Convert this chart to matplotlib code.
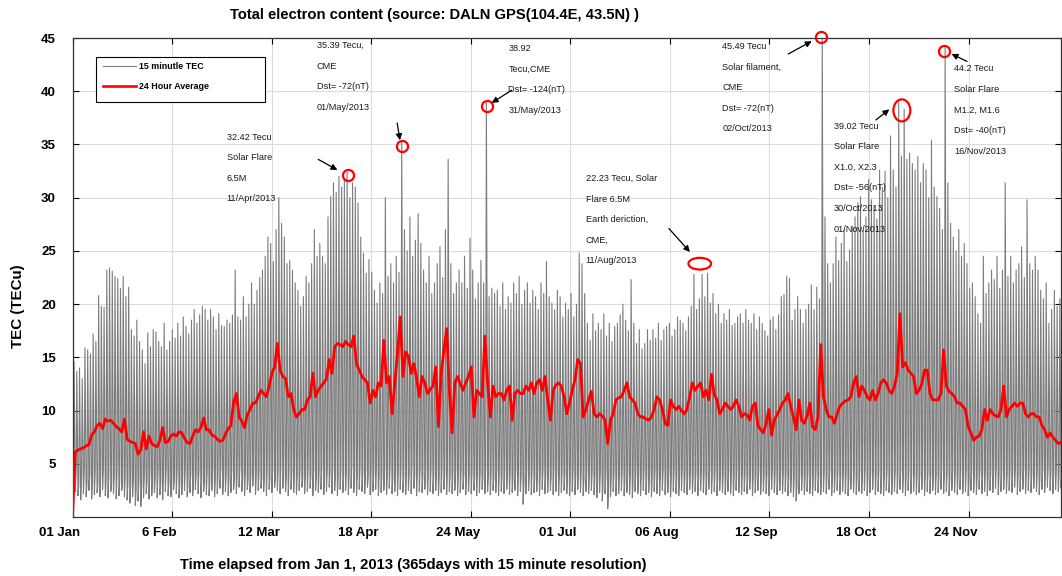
import numpy as np
import matplotlib
matplotlib.use("Agg")
import matplotlib.pyplot as plt
import matplotlib.transforms as mtrans
from matplotlib.patches import Ellipse, Rectangle
from matplotlib.lines import Line2D

plt.rcParams['font.family'] = ['Liberation Sans', 'DejaVu Sans']

# daily night minimum of the 15 minute TEC (TECu), one value per day of 2013
daily_min = [
    1.8, 2.4, 2.0, 1.6, 2.2, 1.9, 2.5, 1.7, 2.1, 2.3,
    1.9, 2.6, 2.0, 1.8, 2.4, 2.2, 1.7, 2.0, 2.5, 1.9,
    1.6, 1.3, 1.9, 1.1, 1.5, 1.0, 1.8, 2.2, 1.7, 2.0,
    2.3, 1.8, 2.1, 1.6, 2.4, 2.0, 1.9, 2.6, 2.2, 1.8,
    2.1, 2.5, 1.9, 2.3, 2.0, 2.6, 2.2, 1.8, 2.4, 2.1,
    2.0, 2.5, 1.9, 2.2, 2.7, 2.1, 2.4, 2.0, 2.3, 2.6,
    2.2, 2.8, 2.4, 2.0, 2.6, 2.3, 2.9, 2.1, 2.5, 2.7,
    2.4, 2.0, 2.6, 2.3, 2.8, 2.5, 2.2, 2.7, 2.4, 2.0,
    2.6, 2.3, 2.1, 2.5, 2.8, 2.2, 2.4, 2.7, 2.0, 2.5,
    2.3, 2.6, 2.1, 2.4, 2.8, 2.2, 2.5, 2.0, 2.6, 2.3,
    2.5, 2.1, 2.7, 2.3, 2.0, 2.6, 2.4, 2.2, 2.8, 2.1,
    2.4, 2.6, 2.0, 2.3, 2.5, 2.1, 2.7, 2.2, 2.4, 2.0,
    2.6, 2.3, 2.1, 2.5, 2.2, 2.7, 2.0, 2.4, 2.3, 2.6,
    2.1, 2.4, 2.2, 2.5, 2.0, 2.3, 2.6, 2.1, 2.4, 2.2,
    2.5, 2.0, 2.3, 2.6, 2.1, 2.4, 2.2, 2.5, 2.0, 2.3,
    2.6, 2.2, 2.4, 2.1, 2.5, 2.3, 2.0, 2.4, 2.2, 2.6,
    2.1, 2.3, 2.5, 2.0, 2.4, 1.2, 2.2, 2.5, 2.1, 2.3,
    2.4, 2.0, 2.6, 2.2, 2.3, 2.5, 2.1, 2.4, 2.0, 2.3,
    2.5, 2.2, 2.0, 2.4, 2.1, 2.6, 2.3, 2.0, 2.4, 2.2,
    2.5, 2.1, 1.8, 2.3, 1.5, 2.2, 0.8, 1.9, 2.4, 2.0,
    2.2, 2.5, 2.0, 2.3, 2.1, 1.8, 2.4, 2.2, 2.0, 2.5,
    2.1, 2.3, 1.9, 2.4, 2.2, 2.0, 2.5, 2.1, 2.3, 1.9,
    2.4, 2.2, 2.0, 2.5, 2.3, 2.1, 2.6, 2.2, 2.4, 2.0,
    2.5, 2.3, 2.1, 2.6, 2.2, 2.4, 2.0, 2.5, 2.3, 2.1,
    2.4, 2.2, 2.0, 2.5, 2.3, 2.1, 2.4, 2.2, 2.6, 2.0,
    2.3, 2.5, 2.1, 2.4, 2.2, 2.0, 2.6, 2.3, 2.1, 2.5,
    2.2, 2.4, 2.0, 2.3, 1.9, 1.5, 2.2, 2.5, 2.1, 2.4,
    2.2, 2.0, 2.5, 2.3, 2.1, 2.4, 2.2, 2.6, 2.0, 2.3,
    2.5, 2.1, 2.4, 2.2, 2.0, 2.6, 2.3, 2.1, 2.4, 2.2,
    2.5, 2.0, 2.3, 2.6, 2.1, 2.4, 2.2, 2.0, 2.5, 2.3,
    2.1, 2.4, 2.2, 2.6, 2.3, 2.0, 2.5, 2.2, 2.4, 2.1,
    2.3, 2.6, 2.0, 2.4, 2.2, 2.5, 2.1, 2.3, 2.6, 2.2,
    2.4, 2.0, 2.5, 2.3, 2.1, 2.6, 2.2, 2.4, 2.0, 2.5,
    2.3, 2.1, 2.6, 2.2, 2.4, 2.0, 2.5, 2.3, 2.7, 2.1,
    2.4, 2.6, 2.2, 2.5, 2.3, 2.8, 2.1, 2.4, 2.6, 2.2,
    2.5, 2.3, 2.7, 2.4, 2.1, 2.6, 2.3, 2.8, 2.5, 2.2,
    2.6, 2.4, 2.7, 2.3, 2.5,
]

# top of the noisy night band, just before sunrise (TECu)
daily_predawn = [
    3.6, 4.2, 3.1, 3.9, 4.4, 3.3, 4.0, 3.5, 4.3, 3.2,
    3.8, 4.5, 3.4, 4.1, 3.0, 3.9, 4.4, 3.6, 3.2, 4.0,
    3.3, 2.9, 3.7, 2.6, 3.4, 2.8, 3.9, 3.5, 4.2, 3.1,
    3.7, 4.3, 3.2, 3.9, 4.5, 3.4, 4.0, 3.6, 4.4, 3.3,
    3.9, 4.6, 3.5, 4.1, 3.2, 4.0, 4.5, 3.7, 3.3, 4.2,
    3.6, 4.4, 3.4, 4.1, 4.7, 3.5, 4.2, 3.8, 4.5, 3.6,
    4.0, 4.8, 3.7, 4.3, 3.5, 4.1, 4.9, 3.9, 4.4, 3.6,
    4.2, 4.7, 3.8, 4.5, 3.6, 4.3, 4.9, 4.0, 3.7, 4.6,
    4.1, 4.8, 3.9, 4.4, 3.6, 4.2, 4.7, 4.0, 4.5, 3.8,
    4.3, 4.9, 3.9, 4.6, 4.1, 4.8, 4.2, 3.8, 4.5, 4.0,
    4.6, 4.1, 4.9, 4.3, 3.9, 4.7, 4.2, 4.5, 3.8, 4.4,
    4.0, 4.8, 3.9, 4.3, 4.6, 4.1, 4.7, 3.8, 4.4, 4.2,
    4.7, 4.0, 4.5, 4.1, 4.8, 3.9, 4.4, 4.6, 4.0, 4.3,
    3.9, 4.6, 4.2, 4.4, 3.8, 4.5, 4.1, 4.7, 4.0, 4.3,
    4.5, 3.9, 4.4, 4.1, 4.6, 4.0, 4.3, 3.8, 4.5, 4.2,
    4.0, 4.6, 4.1, 4.4, 3.9, 4.5, 4.2, 4.0, 4.6, 4.1,
    4.3, 3.9, 4.5, 4.2, 4.0, 3.2, 4.4, 4.1, 4.6, 3.9,
    4.4, 4.0, 4.5, 4.1, 4.3, 3.9, 4.6, 4.2, 4.0, 4.4,
    4.1, 4.5, 3.9, 4.3, 4.0, 4.6, 4.2, 3.8, 4.4, 4.1,
    4.3, 3.9, 3.6, 4.2, 3.4, 4.0, 2.9, 3.8, 4.3, 3.9,
    4.1, 4.4, 3.8, 4.2, 3.9, 3.6, 4.3, 4.0, 3.8, 4.4,
    3.9, 4.2, 3.7, 4.3, 4.0, 3.8, 4.4, 3.9, 4.2, 3.7,
    4.3, 4.0, 3.8, 4.4, 4.1, 3.9, 4.5, 4.0, 4.3, 3.8,
    4.4, 4.1, 3.9, 4.5, 4.0, 4.3, 3.8, 4.4, 4.1, 3.9,
    4.3, 4.0, 3.8, 4.4, 4.1, 3.9, 4.3, 4.0, 4.5, 3.8,
    4.1, 4.4, 3.9, 4.2, 4.0, 3.8, 4.5, 4.1, 3.9, 4.3,
    4.0, 4.2, 3.8, 4.1, 3.7, 3.3, 4.0, 4.3, 3.9, 4.2,
    4.0, 3.8, 4.4, 4.1, 3.9, 4.3, 4.0, 4.5, 3.8, 4.2,
    4.4, 3.9, 4.3, 4.1, 3.8, 4.6, 4.2, 3.9, 4.4, 4.1,
    4.5, 3.9, 4.2, 4.6, 4.0, 4.4, 4.1, 3.9, 4.5, 4.2,
    4.0, 4.4, 4.1, 4.6, 4.2, 3.9, 4.5, 4.1, 4.4, 4.0,
    4.2, 4.6, 3.9, 4.4, 4.1, 4.5, 4.0, 4.2, 4.6, 4.1,
    4.3, 3.9, 4.5, 4.2, 4.0, 4.6, 4.1, 4.4, 3.9, 4.5,
    4.2, 4.0, 4.6, 4.1, 4.4, 3.9, 4.5, 4.2, 4.7, 4.0,
    4.4, 4.6, 4.1, 4.5, 4.2, 4.8, 4.0, 4.4, 4.6, 4.1,
    4.5, 4.2, 4.7, 4.3, 4.0, 4.6, 4.2, 4.8, 4.4, 4.1,
    4.6, 4.3, 4.7, 4.2, 4.5,
]

# daily (daytime) peak of the 15 minute TEC (TECu)
daily_peak = [
    14.6, 13.7, 14.0, 13.0, 15.9, 15.7, 15.3, 17.2, 16.5, 20.8,
    19.8, 19.7, 23.2, 23.4, 23.1, 22.6, 22.4, 21.5, 22.6, 20.7,
    21.6, 17.6, 17.0, 18.5, 16.5, 15.7, 14.4, 17.3, 16.0, 17.6,
    17.4, 16.5, 16.0, 18.2, 15.7, 16.5, 17.6, 16.8, 18.2, 17.0,
    18.8, 17.9, 17.2, 18.5, 19.5, 18.2, 19.0, 19.8, 19.5, 18.5,
    19.5, 18.8, 17.6, 19.1, 18.0, 17.9, 18.5, 18.2, 19.0, 23.2,
    18.8, 18.5, 20.7, 18.8, 20.0, 22.0, 20.0, 21.3, 22.5, 23.2,
    24.5, 26.3, 25.7, 24.0, 27.0, 30.0, 27.6, 26.3, 23.8, 24.1,
    23.2, 22.0, 21.3, 19.8, 20.7, 22.6, 22.0, 23.8, 27.0, 24.5,
    25.7, 24.5, 23.8, 28.2, 30.1, 31.4, 30.5, 32.0, 31.0, 31.7,
    32.42, 30.0, 31.4, 31.0, 29.5, 26.3, 24.8, 22.9, 24.2, 23.0,
    21.3, 20.1, 22.0, 21.0, 30.0, 22.6, 23.8, 22.0, 24.5, 23.0,
    35.39, 27.0, 25.0, 28.2, 24.5, 26.0, 28.5, 25.7, 23.2, 22.0,
    24.5, 21.0, 22.0, 23.8, 25.4, 22.5, 27.0, 33.6, 23.8, 21.0,
    22.0, 23.2, 22.0, 24.5, 21.5, 26.2, 23.2, 20.5, 22.0, 24.1,
    22.0, 38.92, 20.7, 21.5, 21.0, 21.3, 19.8, 22.0, 19.5, 20.7,
    20.1, 22.0, 21.0, 22.6, 20.0, 21.3, 22.0, 20.1, 21.3, 20.7,
    19.5, 22.0, 21.0, 24.0, 20.7, 20.1, 19.5, 21.3, 20.7, 18.8,
    20.1, 19.5, 21.0, 18.8, 20.0, 24.8, 23.8, 21.0, 18.2, 16.6,
    19.1, 17.5, 18.2, 17.6, 19.1, 17.0, 18.2, 16.5, 17.9, 18.2,
    19.0, 20.0, 18.5, 17.5, 22.3, 18.2, 16.3, 17.6, 15.8, 16.3,
    17.6, 16.6, 17.6, 16.8, 18.2, 16.6, 17.6, 17.9, 18.2, 17.0,
    17.6, 18.8, 18.5, 18.2, 17.5, 18.8, 19.8, 22.8, 19.5, 20.5,
    22.8, 20.7, 22.9, 20.1, 21.0, 19.1, 20.0, 18.2, 19.1, 18.5,
    19.5, 18.0, 18.2, 18.8, 19.1, 18.2, 19.5, 18.5, 18.2, 19.1,
    17.6, 18.8, 18.2, 17.5, 17.0, 18.5, 18.8, 17.6, 19.0, 20.7,
    20.9, 22.6, 22.4, 18.5, 19.5, 20.7, 19.5, 18.2, 19.5, 20.0,
    21.8, 19.5, 21.6, 20.5, 45.49, 28.2, 23.8, 22.0, 23.8, 26.3,
    24.1, 25.7, 27.0, 24.0, 25.1, 27.3, 28.2, 29.5, 30.1, 27.0,
    28.2, 31.7, 29.8, 29.2, 28.0, 32.6, 31.0, 32.5, 30.0, 35.8,
    32.6, 31.0, 39.02, 33.9, 38.3, 33.6, 34.2, 33.2, 32.6, 33.9,
    31.4, 33.2, 32.6, 30.0, 35.4, 31.0, 30.1, 29.0, 27.0, 44.2,
    31.4, 27.6, 26.3, 25.0, 27.0, 24.5, 25.7, 23.8, 21.5, 22.0,
    20.7, 19.1, 18.2, 24.5, 21.0, 22.0, 23.2, 22.3, 24.5, 21.5,
    23.2, 31.4, 22.6, 24.5, 22.0, 23.2, 23.8, 25.4, 22.5, 29.8,
    23.8, 23.2, 24.5, 23.2, 21.3, 20.5, 22.0, 18.2, 19.5, 21.3,
    19.8, 20.5, 19.0, 20.0, 19.0,
]

# 24 hour running average (TECu)
daily_avg = [
    0.0, 6.1, 6.3, 6.4, 6.5, 6.7, 6.8, 7.7, 8.0, 8.6,
    8.8, 8.3, 9.2, 9.0, 9.1, 8.8, 8.5, 8.3, 8.0, 9.2,
    7.3, 7.1, 7.0, 6.9, 5.9, 6.3, 8.0, 6.4, 7.6, 6.9,
    6.7, 6.6, 7.2, 8.4, 7.0, 7.1, 7.6, 7.8, 7.6, 8.0,
    7.9, 7.4, 7.0, 6.9, 7.6, 8.2, 8.0, 8.4, 9.3, 8.2,
    8.2, 7.7, 7.6, 7.3, 7.1, 7.2, 7.8, 8.3, 8.6, 10.8,
    11.6, 9.4, 9.0, 8.4, 9.6, 10.1, 10.7, 10.7, 11.3, 11.9,
    11.6, 11.3, 12.3, 13.5, 14.1, 16.3, 13.8, 13.2, 13.0, 11.3,
    11.6, 10.1, 9.4, 9.7, 10.1, 10.1, 11.0, 11.3, 13.5, 11.3,
    11.9, 12.3, 12.6, 13.0, 14.8, 13.5, 16.0, 16.3, 16.2, 16.0,
    16.5, 16.2, 16.0, 17.0, 14.4, 13.8, 13.2, 12.9, 12.6, 10.7,
    11.9, 11.3, 12.6, 12.3, 16.6, 12.6, 13.2, 9.7, 12.6, 15.4,
    18.8, 13.2, 15.5, 15.1, 13.5, 14.4, 13.0, 11.3, 13.2, 12.6,
    11.6, 12.0, 12.3, 14.1, 8.5, 13.5, 15.7, 17.7, 11.9, 7.9,
    12.6, 13.2, 12.5, 11.9, 12.6, 13.2, 14.1, 9.4, 11.9, 11.6,
    11.3, 17.0, 12.6, 9.4, 12.3, 11.3, 11.6, 11.6, 11.0, 11.9,
    12.3, 9.1, 11.6, 11.9, 11.6, 11.6, 12.3, 11.9, 12.6, 11.6,
    12.6, 12.9, 11.9, 13.2, 11.0, 9.1, 11.9, 12.4, 12.6, 12.3,
    11.3, 9.7, 10.7, 11.9, 12.9, 14.8, 14.4, 9.4, 10.1, 11.0,
    11.8, 9.7, 9.4, 9.7, 9.5, 9.1, 6.9, 9.1, 9.7, 11.0,
    11.2, 11.3, 11.9, 12.6, 11.3, 11.0, 10.7, 9.7, 9.4, 9.4,
    9.2, 9.1, 9.4, 10.1, 11.3, 11.0, 10.1, 8.8, 8.6, 11.0,
    10.4, 10.1, 10.4, 10.0, 9.7, 10.1, 11.3, 12.6, 11.9, 12.3,
    12.6, 11.3, 11.9, 11.0, 13.4, 11.5, 11.0, 9.7, 10.1, 10.7,
    10.4, 10.1, 10.4, 11.0, 10.4, 9.4, 9.7, 9.6, 9.1, 10.4,
    10.7, 8.6, 8.2, 7.9, 8.8, 10.1, 7.7, 9.1, 9.6, 10.1,
    10.7, 11.0, 11.6, 10.4, 9.4, 8.2, 11.0, 9.1, 8.8, 9.5,
    10.7, 8.5, 8.2, 9.4, 16.2, 11.3, 10.1, 9.4, 9.4, 8.8,
    9.7, 10.4, 10.7, 10.9, 11.0, 11.3, 12.6, 13.2, 11.3, 12.3,
    11.9, 11.3, 11.0, 11.9, 11.0, 11.6, 12.6, 12.9, 12.6, 11.9,
    11.6, 12.3, 13.5, 19.1, 14.1, 14.5, 13.8, 13.5, 13.2, 11.6,
    11.9, 12.5, 13.8, 13.8, 11.6, 11.0, 11.0, 11.0, 11.6, 15.7,
    12.3, 11.8, 11.6, 11.3, 10.7, 10.7, 10.4, 10.1, 8.5, 7.9,
    7.2, 7.5, 7.6, 8.2, 10.1, 9.1, 10.1, 9.7, 9.5, 9.4,
    10.1, 12.3, 9.4, 10.1, 10.4, 10.7, 10.4, 10.7, 10.7, 9.7,
    9.4, 9.7, 9.7, 9.4, 9.4, 8.6, 8.2, 7.5, 7.9, 7.5,
    7.2, 6.9, 7.0, 7.2, 7.0,
]

tick_labels = ['01 Jan', '6 Feb', '12 Mar', '18 Apr', '24 May',
               '01 Jul', '06 Aug', '12 Sep', '18 Oct', '24 Nov']

# event notes: text lines, text anchor (day, TECu), arrow tail, arrow head, marker
notes = [
    (['32.42 Tecu', 'Solar Flare', '6.5M', '11/Apr/2013'],
     (56.5, 35.7), (90.0, 33.6), (97.0, 32.6), (101.0, 32.1)),
    (['35.39 Tecu,', 'CME', 'Dst= -72(nT)', '01/May/2013'],
     (89.4, 44.3), (118.9, 37.0), (119.9, 35.4), (120.7, 34.9)),
    (['38.92', 'Tecu,CME', 'Dst= -124(nT)', '31/May/2013'],
     (159.6, 44.0), (160.8, 40.1), (153.5, 38.9), (151.7, 38.6)),
    (['22.23 Tecu, Solar', 'Flare 6.5M', 'Earth deriction,', 'CME,', '11/Aug/2013'],
     (187.9, 31.8), (218.4, 27.1), (226.1, 24.9), None),
    (['45.49 Tecu', 'Solar filament,', 'CME', 'Dst= -72(nT)', '02/Oct/2013'],
     (237.9, 44.2), (262.1, 43.5), (270.7, 44.7), (274.1, 45.1)),
    (['39.02 Tecu', 'Solar Flare', 'X1.0, X2.3', 'Dst= -56(nT)', '30/Oct/2013', '01/Nov/2013'],
     (278.9, 36.7), (294.2, 37.3), (299.1, 38.3), None),
    (['44.2 Tecu', 'Solar Flare', 'M1.2, M1.6', 'Dst= -40(nT)', '16/Nov/2013'],
     (322.8, 42.1), (327.6, 42.8), (321.9, 43.5), (319.0, 43.8)),
]

# one night minimum, one pre-dawn value and one daytime peak per day
days = np.arange(len(daily_peak))
t = np.column_stack([days, days + 0.3, days + 0.55]).ravel()
v = np.column_stack([daily_min, daily_predawn, daily_peak]).ravel()

fig = plt.figure(figsize=(10.62, 5.76), dpi=100)
ax = fig.add_axes([0.0683, 0.1024, 0.9308, 0.8316])

ax.plot(t, v, color='#7c7c7c', lw=0.8, zorder=2)
ax.plot(days, daily_avg, color='red', lw=2.0, zorder=3)

ax.set_xlim(0, 362)
ax.set_ylim(0, 45)
ax.set_xticks(np.arange(10) * 3500 / 96.0)
ax.set_xticklabels(tick_labels)
ax.set_yticks(np.arange(5, 46, 5))
ax.grid(True, color='#dcdcdc', lw=0.8)
ax.set_axisbelow(True)
ax.tick_params(direction='in', top=True, right=True, length=4, width=0.8,
               labelsize=9.5)
ax.tick_params(axis='y', pad=12)
ax.tick_params(axis='x', pad=7)
shift = mtrans.ScaledTranslation(-0.13, 0, fig.dpi_scale_trans)
for lab in ax.get_xticklabels():
    lab.set_fontweight('bold')
    lab.set_transform(lab.get_transform() + shift)
for lab in ax.get_yticklabels():
    lab.set_fontweight('bold')
for sp in ax.spines.values():
    sp.set_linewidth(0.9)
    sp.set_color('#333333')

# event annotations
for lines, (tx, ty), tail, head, mark in notes:
    for i, s in enumerate(lines):
        ax.text(tx, ty - i * 1.93, s, fontsize=6.6, color='#1a1a1a',
                ha='left', va='center', zorder=6)
    ax.annotate('', xy=head, xytext=tail,
                arrowprops=dict(arrowstyle='-|>', color='black', lw=0.9,
                                mutation_scale=9, shrinkA=0, shrinkB=0),
                zorder=6)
    if mark is not None:
        ax.plot(mark[0], mark[1], 'o', ms=8, mfc='none', mec='red',
                mew=1.6, zorder=7, clip_on=False)
ax.add_patch(Ellipse((229.7, 23.8), 8.3, 1.1, fill=False, ec='red',
                     lw=1.6, zorder=7))
ax.add_patch(Ellipse((303.7, 38.2), 6.2, 2.07, fill=False, ec='red',
                     lw=1.6, zorder=7))

# legend box
ax.add_patch(Rectangle((0.0238, 0.8664), 0.1709, 0.0939, transform=ax.transAxes,
                       facecolor='white', edgecolor='black', lw=0.8, zorder=8))
ax.add_line(Line2D([0.0309, 0.0642], [0.9415, 0.9415], transform=ax.transAxes,
                   color='#808080', lw=0.8, zorder=9))
ax.add_line(Line2D([0.0309, 0.0642], [0.8998, 0.8998], transform=ax.transAxes,
                   color='red', lw=1.9, zorder=9))
ax.text(0.0673, 0.9415, '15 minutle TEC', transform=ax.transAxes, fontsize=6.4,
        fontweight='bold', va='center', zorder=9)
ax.text(0.0673, 0.8998, '24 Hour Average', transform=ax.transAxes, fontsize=6.4,
        fontweight='bold', va='center', zorder=9)

fig.text(0.409, 0.974, 'Total electron content (source: DALN GPS(104.4E, 43.5N) )',
         ha='center', va='center', fontsize=10.6, fontweight='bold')
fig.text(0.389, 0.019, 'Time elapsed from Jan 1, 2013 (365days with 15 minute resolution)',
         ha='center', va='center', fontsize=10.6, fontweight='bold')
fig.text(0.017, 0.469, 'TEC (TECu)', rotation=90, ha='center', va='center',
         fontsize=10.9, fontweight='bold')

fig.savefig('out.png', dpi=100)
